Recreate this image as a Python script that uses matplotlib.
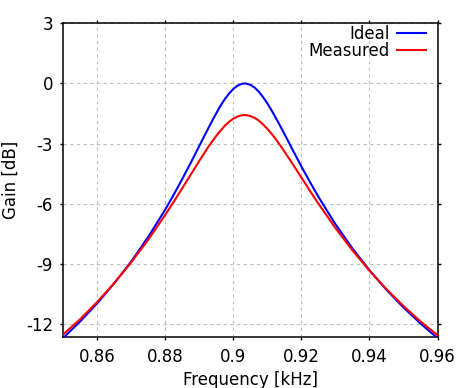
import matplotlib
matplotlib.use("Agg")
import matplotlib.pyplot as plt

freq = [0.850, 0.855, 0.860, 0.865, 0.870, 0.875, 0.880, 0.8825, 0.885, 0.8875,
        0.890, 0.8925, 0.89375, 0.895, 0.89625, 0.8975, 0.89875, 0.900, 0.90125,
        0.9025, 0.9033, 0.90375, 0.905, 0.90625, 0.9075, 0.90875, 0.910, 0.91125,
        0.9125, 0.91375, 0.915, 0.9175, 0.920, 0.9225, 0.925, 0.930, 0.935, 0.940,
        0.945, 0.950, 0.955, 0.960]

# Ideal gain (dB)
ideal = [-12.70, -11.87, -10.97, -9.97, -8.88, -7.65, -6.29, -5.54, -4.76, -3.95,
         -3.11, -2.28, -1.87, -1.48, -1.11, -0.78, -0.50, -0.27, -0.11,
         -0.02, 0.00, -0.01, -0.07, -0.21, -0.42, -0.69, -1.00, -1.35,
         -1.73, -2.12, -2.52, -3.34, -4.15, -4.92, -5.66, -7.03, -8.24, -9.32,
         -10.30, -11.18, -11.98, -12.71]

# Measured gain (dB)
measured = [-12.52, -11.76, -10.90, -9.96, -8.92, -7.79, -6.55, -5.90, -5.22, -4.54,
            -3.86, -3.20, -2.90, -2.61, -2.35, -2.11, -1.91, -1.76, -1.65,
            -1.59, -1.58, -1.58, -1.63, -1.72, -1.86, -2.05, -2.27, -2.52,
            -2.79, -3.09, -3.40, -4.04, -4.70, -5.36, -6.00, -7.22, -8.33, -9.35,
            -10.27, -11.11, -11.88, -12.56]

xticks = [0.86, 0.88, 0.90, 0.92, 0.94, 0.96]
xticklabels = ["0.86", "0.88", "0.9", "0.92", "0.94", "0.96"]
yticks = [3, 0, -3, -6, -9, -12]
yticklabels = ["3", "0", "-3", "-6", "-9", "-12"]

plt.rcParams['font.family'] = ['DejaVu Sans']
plt.rcParams['font.size'] = 12

fig = plt.figure(figsize=(4.72, 3.88), dpi=100)
ax = fig.add_axes([63.3 / 472, 1 - 337.3 / 388, (437.5 - 63.3) / 472, (337.3 - 23.3) / 388])

ax.plot(freq, ideal, color=(0, 0, 1), lw=1.5, label="Ideal", zorder=3)
ax.plot(freq, measured, color=(1, 0, 0), lw=1.5, label="Measured", zorder=4)

ax.set_xlim(0.85, 0.96)
ax.set_ylim(-12.67, 3)
ax.set_xticks(xticks)
ax.set_xticklabels(xticklabels)
ax.set_yticks(yticks)
ax.set_yticklabels(yticklabels)

ax.grid(True, color=(0.75, 0.75, 0.75), lw=0.8, linestyle=(0, (3, 3)), zorder=1)
ax.set_axisbelow(True)
for s in ax.spines.values():
    s.set_linewidth(1.1)
ax.tick_params(direction='out', length=2.5, width=1.0, top=True, right=True,
               labeltop=False, labelright=False, pad=5, labelsize=12)

ax.set_xlabel("Frequency [kHz]", fontsize=12, labelpad=4)
ax.set_ylabel("Gain [dB]", fontsize=12, labelpad=4)

ax.legend(loc='upper right', bbox_to_anchor=(0.969, 0.995), frameon=False,
          markerfirst=False, handlelength=1.74, handletextpad=0.42,
          labelspacing=-0.05, borderpad=0, borderaxespad=0, fontsize=12)

fig.savefig("out.png", dpi=100)
